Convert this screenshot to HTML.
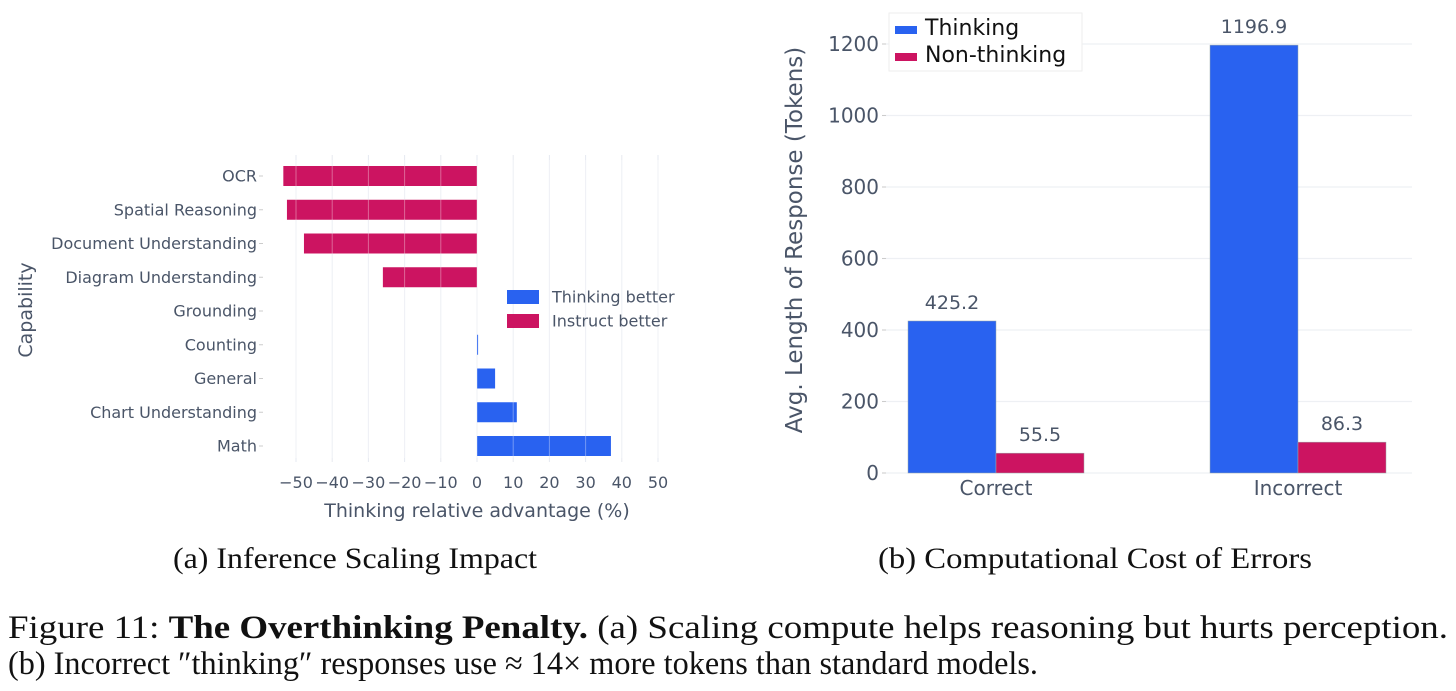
<!DOCTYPE html>
<html><head><meta charset="utf-8"><style>
html,body{margin:0;padding:0;background:#fff;width:1456px;height:691px;overflow:hidden}
svg text{font-family:"DejaVu Sans","Liberation Sans",sans-serif}
.serif{font-family:"Liberation Serif",serif !important}
</style></head><body>
<svg id="fig" width="1456" height="691" xmlns="http://www.w3.org/2000/svg">
<g id="left"></g>
<g id="right"></g>
<text class="serif" x="173" y="568" font-size="30" fill="#111" textLength="364" lengthAdjust="spacingAndGlyphs">(a) Inference Scaling Impact</text>
<text class="serif" x="878" y="568" font-size="30" fill="#111" textLength="434" lengthAdjust="spacingAndGlyphs">(b) Computational Cost of Errors</text>
<text class="serif" x="8" y="638" font-size="33" fill="#111" textLength="1440" lengthAdjust="spacingAndGlyphs">Figure 11: <tspan font-weight="bold">The Overthinking Penalty.</tspan> (a) Scaling compute helps reasoning but hurts perception.</text>
<text class="serif" x="8" y="674" font-size="33" fill="#111" textLength="1030" lengthAdjust="spacingAndGlyphs">(b) Incorrect ″thinking″ responses use ≈ 14× more tokens than standard models.</text>
</svg>
<script>
const capCategories=["OCR","Spatial Reasoning","Document Understanding","Diagram Understanding","Grounding","Counting","General","Chart Understanding","Math"];
const capValues=[-53.5,-52.5,-47.8,-26,0,0.3,5,11,37];
const capTicks=[-50,-40,-30,-20,-10,0,10,20,30,40,50];
const errCategories=["Correct","Incorrect"];
const thinkingValues=[425.2,1196.9];
const nonThinkingValues=[55.5,86.3];
const errTicks=[0,200,400,600,800,1000,1200];
const NS="http://www.w3.org/2000/svg";
const BLUE="#2962f0",RED="#cc1461",TXT="#4a5568";
function mk(p,tag,a,txt){const e=document.createElementNS(NS,tag);for(const k in a)e.setAttribute(k,a[k]);if(txt!==undefined)e.textContent=txt;p.appendChild(e);return e;}
// left
const L=document.getElementById('left');
const lx=v=>477+v*3.62;
const ly=i=>176+i*33.75;
capTicks.forEach(t=>{
 const g=mk(L,'line',{x1:lx(t),x2:lx(t),y1:155,y2:462,stroke:"#e6e9f0","stroke-width":1});
 
 
 const tx=mk(L,'text',{x:lx(t),y:488,"font-size":16,"text-anchor":"middle",fill:TXT},t<0?"−"+(-t):String(t));
 
 
});
capCategories.forEach((c,i)=>{
 const tx=mk(L,'text',{x:257,y:ly(i)+5.5,"font-size":16,"text-anchor":"end",fill:TXT},c);
 
 
 mk(L,'line',{x1:259,x2:263,y1:ly(i),y2:ly(i),stroke:"#ccc"});
 const v=capValues[i];
 if(v!==0){
  const r=mk(L,'rect',{x:Math.min(lx(0),lx(v)),y:ly(i)-10,width:Math.max(Math.abs(lx(v)-lx(0)),0.8),height:20,fill:v>0?BLUE:RED});
  
  
 }
});
capTicks.forEach(t=>{mk(L,'line',{x1:lx(t),x2:lx(t),y1:160,y2:458,stroke:"rgba(255,255,255,0.35)"});});
let t1=mk(L,'text',{x:477,y:517,"font-size":19,"text-anchor":"middle",fill:TXT},"Thinking relative advantage (%)");

let t2=mk(L,'text',{x:0,y:0,"font-size":19,"text-anchor":"middle",fill:TXT,transform:"translate(32,310) rotate(-90)"},"Capability");

[["Thinking better",BLUE,297],["Instruct better",RED,321]].forEach(([n,col,y])=>{
 const s=mk(L,'rect',{x:507,y:y-7,width:32,height:14,fill:col});
 
 const tx=mk(L,'text',{x:552,y:y+5.5,"font-size":16,fill:TXT},n);
 
});
// right
const R=document.getElementById('right');
const ry=v=>473-v*0.3575;
const cx=[996,1298];
errTicks.forEach(t=>{
 const g=mk(R,'line',{x1:882,x2:1412,y1:ry(t),y2:ry(t),stroke:"#eef0f4","stroke-width":1.2});
 
 mk(R,'line',{x1:882,x2:886,y1:ry(t),y2:ry(t),stroke:"#ccc"});
 const tx=mk(R,'text',{x:879,y:ry(t)+7,"font-size":20,"text-anchor":"end",fill:TXT},String(t));
 
});
errCategories.forEach((c,i)=>{
 [[thinkingValues[i],-88,BLUE,'thinking'],[nonThinkingValues[i],0,RED,'non-thinking']].forEach(([v,off,col,s])=>{
  const r=mk(R,'rect',{x:cx[i]+off,y:ry(v),width:88,height:ry(0)-ry(v),fill:col,stroke:"#9aa",'stroke-width':0.5});
  
  const tx=mk(R,'text',{x:cx[i]+off+44,y:ry(v)-12,"font-size":19,"text-anchor":"middle",fill:TXT},v.toFixed(1));
  
 });
 const tx=mk(R,'text',{x:cx[i],y:495,"font-size":20,"text-anchor":"middle",fill:TXT},c);
 
});
let t3=mk(R,'text',{x:0,y:0,"font-size":23,"text-anchor":"middle",fill:TXT,transform:"translate(802,240) rotate(-90)"},"Avg. Length of Response (Tokens)");

let lb=mk(R,'rect',{x:889,y:13,width:193,height:58,fill:"#fff",stroke:"#eee"});

[["Thinking",BLUE,28],["Non-thinking",RED,55]].forEach(([n,col,y])=>{
 const s=mk(R,'rect',{x:895,y:y-2,width:22,height:8,fill:col});
 
 const tx=mk(R,'text',{x:925,y:y+7,"font-size":22,fill:"#111"},n);
 
});
</script>
</body></html>
